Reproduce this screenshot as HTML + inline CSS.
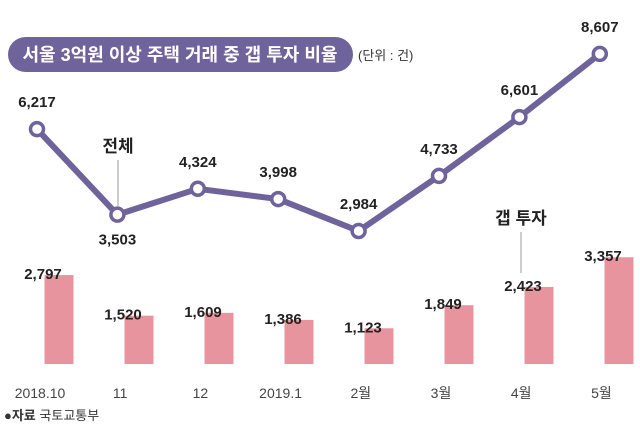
<!DOCTYPE html>
<html><head><meta charset="utf-8"><style>
body{margin:0;background:#fff;width:640px;height:439px;overflow:hidden;font-family:"Liberation Sans","Noto Sans CJK KR",sans-serif}
</style></head><body>
<svg width="640" height="439" xmlns="http://www.w3.org/2000/svg" font-family="Liberation Sans, Noto Sans CJK KR, sans-serif">
<rect x="8" y="37" width="345" height="35" rx="17.5" fill="#6e649b"/>
<text x="180" y="61" text-anchor="middle" fill="#fff" font-size="18" font-weight="bold">서울 3억원 이상 주택 거래 중 갭 투자 비율</text>
<text x="358" y="60" font-size="13" fill="#333">(단위 : 건)</text>
<g id="bars"></g>
<g id="line"></g>
<g id="xlabels"></g>
<line x1="118" y1="160" x2="118" y2="207" stroke="#999" stroke-width="1"/>
<text x="118" y="152" text-anchor="middle" font-size="17" font-weight="bold" fill="#222">전체</text>
<line x1="521" y1="232" x2="521" y2="273" stroke="#999" stroke-width="1"/>
<text x="521" y="224" text-anchor="middle" font-size="17" font-weight="bold" fill="#222">갭 투자</text>
<text x="4" y="420" font-size="13" fill="#333"><tspan font-weight="bold">●자료</tspan> 국토교통부</text>
</svg>
<script>
const categories=["2018.10","11","12","2019.1","2월","3월","4월","5월"];
const totalValues=[6217,3503,4324,3998,2984,4733,6601,8607];
const gapValues=[2797,1520,1609,1386,1123,1849,2423,3357];
const NS="http://www.w3.org/2000/svg";
function xPt(i){return 37+i*80.4;}
function xBar(i){return 59+i*80;}
function yLine(v){return 325-v*0.0315;}
const base=364;
function hBar(v){return v*0.0318;}
function mk(tag,attrs,parent,txt){const e=document.createElementNS(NS,tag);for(const k in attrs)e.setAttribute(k,attrs[k]);if(txt!==undefined)e.textContent=txt;parent.appendChild(e);return e;}
function fmt(v){return v.toLocaleString('en-US');}
const bars=document.getElementById('bars'),line=document.getElementById('line'),xl=document.getElementById('xlabels');
gapValues.forEach((v,i)=>{
  const cx=xBar(i);
  const r=mk('rect',{x:cx-14.5,y:base-hBar(v),width:29,height:hBar(v),fill:'#e8949f'},bars);
  
  
  const t=mk('text',{x:cx-16,y:base-hBar(v)+4,'text-anchor':'middle','font-size':'15','font-weight':'bold',fill:'#222'},bars,fmt(v));
  
  
});
let d='';
totalValues.forEach((v,i)=>{d+=(i?'L':'M')+xPt(i)+','+yLine(v);});
const p=mk('path',{d:d,fill:'none',stroke:'#6e649b','stroke-width':'6','stroke-linejoin':'round'},line);


totalValues.forEach((v,i)=>{
  const c=mk('circle',{cx:xPt(i),cy:yLine(v),r:6.5,fill:'#fff',stroke:'#6e649b','stroke-width':'3.5'},line);
  
  
  const below=(i===1);
  const t=mk('text',{x:xPt(i),y:below?yLine(v)+30:yLine(v)-22,'text-anchor':'middle','font-size':'15','font-weight':'bold',fill:'#222'},line,fmt(v));
  
  
});
categories.forEach((c,i)=>{
  const t=mk('text',{x:40+i*80.2,y:398,'text-anchor':'middle','font-size':'14',fill:'#444'},xl,c);
  
  
});
</script>
</body></html>
